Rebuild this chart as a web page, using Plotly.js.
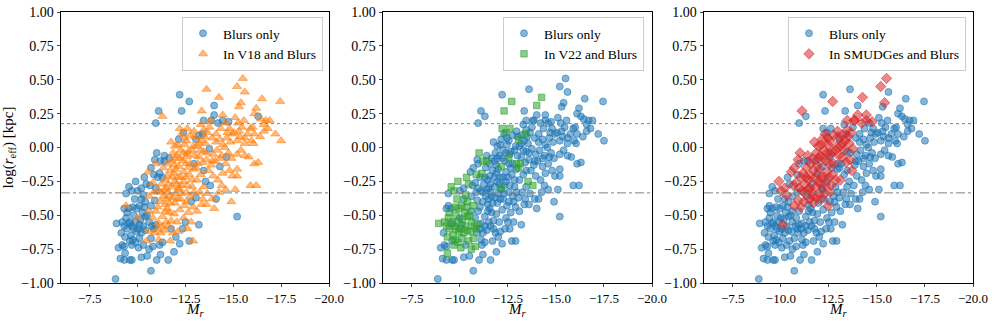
<!DOCTYPE html>
<html><head><meta charset="utf-8">
<script src="https://cdn.plot.ly/plotly-3.0.1.min.js"></script>
<style>body{margin:0;background:#fff}#c{width:996px;height:321px}</style>
</head><body><div id="c"></div>
<script>
// Blurs sample, split by membership in the comparison catalogues
// (N = none, V = V18, G = V22, S = SMUDGes; combined letters = in several)
const mrN = [-8.85,-9.0,-9.1,-9.3,-9.2,-9.3,-9.3,-9.4,-9.15,-9.6,-9.7,-9.55,-9.6,-9.55,-10.2,-10.3,-10.2,-10.7,-10.95,-11.0,-11.2,-11.3,-11.6,-11.9,-12.2,-12.35,-12.2,-12.7,-13.2,-13.05,-13.45,-14.3,-14.1,-14.65,-15.2,-16.3,-11.75,-12.0,-12.5,-12.8,-11.15,-10.5];
const logrN = [-0.97,-0.74,-0.82,-0.83,-0.72,-0.73,-0.45,-0.34,-0.63,-0.83,-0.83,-0.45,-0.69,-0.56,-0.81,-0.72,-0.38,-0.91,0.18,-0.83,-0.79,-0.70,-0.83,-0.77,-0.71,-0.60,0.39,-0.69,-0.57,-0.37,-0.17,-0.14,-0.38,-0.07,-0.51,0.23,-0.60,-0.66,-0.55,-0.40,-0.72,-0.80];

const mrV = [-9.4,-10.0,-10.9,-10.8,-10.95,-10.6,-10.85,-10.95,-10.6,
 -11.1,-11.2,-11.4,-11.1,-11.3,-11.45,-11.35,-11.3,-11.45,-11.3,
 -11.7,-11.85,-11.6,-11.75,-11.9,-11.55,-11.6,-11.9,-11.65,-11.8,-11.95,
 -12.1,-12.05,-12.4,-12.2,-12.4,-12.15,-12.25,
 -12.9,-12.6,-12.8,-12.65,-12.9,-12.55,-12.75,-12.95,-12.95,-12.85,-12.65,
 -13.1,-13.35,-13.25,-13.45,-13.3,-13.45,-13.3,-13.35,-13.4,
 -13.6,-13.9,-13.95,-13.85,-13.95,-13.65,-13.9,-13.6,-13.75,-13.9,-13.6,
 -14.35,-14.1,-14.3,-14.45,-14.15,-14.4,-14.05,-14.45,-14.2,-14.4,-14.0,-14.25,-14.3,-14.1,
 -14.6,-14.8,-14.95,-14.65,-14.85,-14.55,-14.75,-14.9,-14.6,-14.8,-14.95,-14.6,-14.9,-14.7,
 -15.3,-15.1,-15.25,-15.45,-15.05,-15.35,-15.2,-15.4,-15.2,-15.2,-15.2,-15.1,-15.3,
 -15.6,-15.55,-15.9,-15.6,-15.75,-15.6,-15.8,-15.6,-15.9,-15.95,
 -16.5,-16.2,-16.1,-16.0,-16.1,-16.4,-16.05,-16.3,-16.1,-16.2,-16.45,
 -16.9,-16.7,-16.6,-16.8,-16.6,-17.2,-17.5,-17.45,
 -11.05,-11.5];
const logrV = [-0.43,-0.52,-0.63,-0.52,-0.47,-0.36,-0.33,-0.12,-0.47,
 -0.68,-0.63,-0.61,-0.56,-0.51,-0.47,-0.36,0.23,-0.42,-0.58,
 -0.69,-0.63,-0.58,-0.54,-0.49,-0.45,-0.27,-0.19,-0.48,-0.10,-0.41,
 -0.62,-0.55,-0.52,-0.46,-0.25,-0.31,-0.38,
 -0.69,-0.60,-0.55,-0.48,-0.44,-0.40,-0.36,-0.33,-0.16,-0.29,-0.15,
 -0.47,-0.42,-0.33,-0.29,-0.20,-0.03,0.17,0.27,-0.38,
 0.43,0.07,-0.05,-0.13,-0.21,-0.34,-0.38,-0.42,0.15,-0.10,-0.04,
 0.14,0.10,0.06,0.02,-0.02,-0.06,-0.10,-0.19,-0.24,-0.28,-0.45,-0.33,-0.08,0.04,
 0.18,0.14,0.10,0.07,0.04,0.00,-0.04,-0.08,-0.12,-0.17,-0.21,-0.31,-0.40,0.11,
 0.30,0.22,0.18,0.15,0.11,0.08,0.05,-0.02,-0.05,-0.16,-0.21,-0.31,0.12,
 0.41,0.20,0.14,0.07,0.10,0.03,-0.07,-0.06,-0.28,0.05,
 0.36,0.29,0.25,0.15,0.10,0.08,0.03,-0.11,-0.12,-0.28,0.21,
 0.20,0.20,0.17,0.14,0.12,0.10,0.05,0.34,
 -0.60,-0.55];

const mrG = [-8.9,-9.35,-9.2,-9.4,-9.3,-9.45,-9.35,-9.45,-9.55,
 -9.7,-9.6,-9.7,-9.8,-9.65,-9.75,-9.9,-9.8,-9.9,-9.95,-9.85,-9.7,-9.95,-9.75,
 -10.05,-10.1,-10.2,-10.3,-10.15,-10.25,-10.1,-10.4,-10.45,-10.35,-10.4,-10.4,-10.05,-10.35,
 -10.6,-10.8,-10.7,-10.6,-10.75,-10.85,-10.95,-10.5,-10.85,
 -11.2,-11.4,-12.3,-12.4,-12.95,-13.05,-13.4,-13.55,-13.8,-14.0];
const logrG = [-0.56,-0.78,-0.55,-0.52,-0.58,-0.60,-0.66,-0.48,-0.29,
 -0.32,-0.55,-0.58,-0.60,-0.65,-0.68,-0.70,-0.50,-0.55,-0.45,-0.38,-0.72,-0.62,-0.44,
 -0.74,-0.67,-0.63,-0.58,-0.53,-0.48,-0.43,-0.40,-0.27,-0.22,-0.61,-0.51,-0.60,-0.44,
 -0.75,-0.73,-0.67,-0.55,-0.58,-0.20,-0.57,-0.50,-0.60,
 -0.10,-0.10,0.27,0.11,-0.12,0.06,0.10,-0.25,-0.28,0.31];

const mrS = [-10.0,-10.2,-10.7,-10.9,-10.65,-10.9,-10.1,-11.4,-11.1,-11.05,-11.65,-12.15,-13.2,-13.75,-13.85,-13.45,-14.2,-14.45,-14.0,-14.75,-11.3,-10.95];
const logrS = [-0.32,-0.30,-0.15,-0.09,-0.28,-0.39,-0.57,-0.06,0.27,-0.22,-0.08,0.06,0.09,-0.01,0.20,0.20,0.18,0.20,0.24,0.19,-0.22,-0.30];

const mrVS = [-10.55,-10.8,
 -11.05,-11.2,-11.1,-11.25,-11.45,-11.35,-11.4,
 -11.7,-11.85,-11.6,-11.8,-11.95,-11.55,-11.7,-11.9,-11.85,-11.95,-11.75,
 -12.45,-12.1,-12.3,-12.05,-12.25,-12.4,-12.35,-12.05,-12.25,-12.45,-12.3,
 -12.6,-12.85,-12.7,-12.55,-12.65,-12.9,-12.55,-12.75,-12.95,
 -13.1,-13.4,-13.2,-13.1,-13.35,-13.45,
 -13.8,-13.65,-13.55,-13.6,-13.7,-14.45,-15.5,-15.2,-15.4,
 -11.5,-11.65,-11.8,-12.0,-12.1,-12.3,-12.5,-12.6,-12.85,-13.0,-12.75,-12.4,-12.2,-11.95,-11.55,-11.2,-11.5,-12.0,-12.55,-13.2,-13.0,-13.3,-12.45,-12.1,-13.5];
const logrVS = [-0.18,-0.26,
 -0.44,-0.40,-0.32,-0.27,-0.24,-0.15,-0.31,
 -0.41,-0.37,-0.33,-0.29,-0.25,-0.21,-0.17,-0.13,-0.04,0.01,0.04,
 -0.43,-0.38,-0.34,-0.27,-0.22,-0.18,-0.10,-0.06,-0.02,0.02,0.10,
 -0.28,-0.24,-0.20,-0.12,-0.03,0.01,0.05,0.09,0.12,
 -0.24,-0.11,-0.07,0.01,0.05,0.13,
 0.20,0.11,0.03,-0.09,-0.17,0.24,0.51,0.45,0.33,
 -0.30,-0.36,-0.22,-0.16,-0.22,-0.28,-0.22,-0.05,-0.02,-0.06,-0.12,-0.04,-0.08,-0.08,-0.12,-0.33,-0.38,-0.34,-0.33,0.03,0.08,-0.02,0.07,0.02,0.08];

const mrGS = [-9.9,-10.3,-10.7,-11.15,-11.0,-12.7];
const logrGS = [-0.25,-0.35,-0.43,-0.19,-0.04,0.34];

const mrVG = [-10.45,-10.55,-12.15,-12.15,-12.2,-12.55,-12.6,-13.05,-13.15];
const logrVG = [-0.69,-0.62,-0.30,-0.14,0.14,-0.07,0.14,-0.15,-0.12];

const mrVGS = [-14.25];
const logrVGS = [0.37];

// reference lines (log r_eff)
const dottedLevel = 0.176;
const dashDotLevel = -0.335;

const xTickVals = [-7.5,-10,-12.5,-15,-17.5,-20];
const yTickVals = [-1,-0.75,-0.5,-0.25,0,0.25,0.5,0.75,1];

const groupsMr = {N:mrN, V:mrV, G:mrG, S:mrS, VS:mrVS, GS:mrGS, VG:mrVG, VGS:mrVGS};
const groupsLogr = {N:logrN, V:logrV, G:logrG, S:logrS, VS:logrVS, GS:logrGS, VG:logrVG, VGS:logrVGS};

const panels = [
  {tag:'V', label:'In V18 and Blurs', color:'255,127,14', symbol:'triangle-up', size:8},
  {tag:'G', label:'In V22 and Blurs', color:'44,160,44', symbol:'square', size:6.5},
  {tag:'S', label:'In SMUDGes and Blurs', color:'214,39,40', symbol:'diamond', size:8}
];

function collect(tag, inside){
  const x=[], y=[];
  for (const k in groupsMr){
    const has = k.indexOf(tag) >= 0;
    if (has === inside){ x.push(...groupsMr[k]); y.push(...groupsLogr[k]); }
  }
  return {x, y};
}

const font = 'Liberation Serif, Times New Roman, serif';
const doms = [[61/996, 329/996],[383/996, 652/996],[704/996, 973/996]];
const legX = [323/996, 644/996, 966/996];
const traces = [];
const layout = {
  width:996, height:321, margin:{l:0,r:0,t:0,b:0},
  paper_bgcolor:'#fff', plot_bgcolor:'#fff', showlegend:true,
  font:{family:font, size:14, color:'#000'},
  shapes:[], annotations:[]
};

panels.forEach((p, i) => {
  const n = i === 0 ? '' : String(i+1);
  const leg = 'legend' + n;
  const blue = collect(p.tag, false);
  const cat = collect(p.tag, true);
  traces.push({
    type:'scatter', mode:'markers', x:blue.x, y:blue.y, xaxis:'x'+n, yaxis:'y'+n,
    name:'Blurs only', legend:leg,
    marker:{symbol:'circle', size:7, color:'rgba(31,119,180,0.55)', line:{color:'rgba(31,119,180,0.55)', width:1}}
  });
  traces.push({
    type:'scatter', mode:'markers', x:cat.x, y:cat.y, xaxis:'x'+n, yaxis:'y'+n,
    name:p.label, legend:leg,
    marker:{symbol:p.symbol, size:p.size, color:'rgba('+p.color+',0.55)', line:{color:'rgba('+p.color+',0.55)', width:1}}
  });
  layout['xaxis'+n] = {
    domain:doms[i], anchor:'y'+n, range:[-6,-20], autorange:false,
    tickvals:xTickVals, tickformat:'.1f', ticks:'outside', ticklen:3, tickwidth:1,
    showline:true, mirror:true, linecolor:'#000', linewidth:1, showgrid:false, zeroline:false,
    tickfont:{family:font, size:13}
  };
  const yax = {
    domain:[1-283/321, 1-12/321], anchor:'x'+n, range:[-1,1], autorange:false,
    tickvals:yTickVals, tickformat:'.2f', ticks:'outside', ticklen:3.5, tickwidth:1,
    showline:true, mirror:true, linecolor:'#000', linewidth:1, showgrid:false, zeroline:false,
    tickfont:{family:font, size:14}
  };
  if (i === 0) yax.title = {text:'log(<i>r</i><sub>eff</sub>) [kpc]', font:{family:font, size:15}, standoff:6};
  layout['yaxis'+n] = yax;
  layout.annotations.push({
    text:'<i>M</i><sub><i>r</i></sub>', xref:'paper', yref:'paper',
    x:(doms[i][0]+doms[i][1])/2, y:1/321, xanchor:'center', yanchor:'bottom',
    showarrow:false, borderpad:0, font:{family:font, size:15}
  });
  layout[leg] = {
    x:legX[i], xanchor:'right', y:1-17/321, yanchor:'top',
    bgcolor:'rgba(255,255,255,0.8)', bordercolor:'#cccccc', borderwidth:1,
    font:{family:font, size:13.5}, tracegroupgap:0
  };
  layout.shapes.push({type:'line', xref:'x'+n+' domain', yref:'y'+n, x0:0, x1:1, y0:dottedLevel, y1:dottedLevel,
    line:{color:'#808080', width:1, dash:'dot'}});
  layout.shapes.push({type:'line', xref:'x'+n+' domain', yref:'y'+n, x0:0, x1:1, y0:dashDotLevel, y1:dashDotLevel,
    line:{color:'#808080', width:1, dash:'dashdot'}});
});

Plotly.newPlot('c', traces, layout, {staticPlot:true, displayModeBar:false});
</script>
</body></html>
